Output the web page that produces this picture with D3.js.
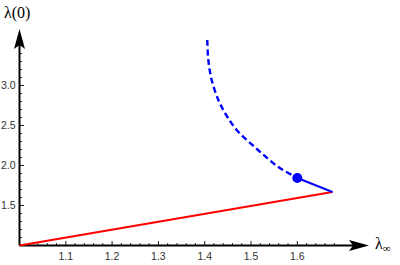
<!DOCTYPE html>
<html>
<head>
<meta charset="utf-8">
<script src="https://cdn.jsdelivr.net/npm/d3@7"></script>
<style>
  body { margin: 0; background: #fff; }
  .tick-label { font-family: "Liberation Sans", Arial, sans-serif; font-size: 10.5px; fill: #333; }
  .axis-label { font-family: "Liberation Serif", "Times New Roman", serif; fill: #000; }
</style>
</head>
<body>
<div id="chart"></div>
<script>
// values
const xMajorTicks = [1.1, 1.2, 1.3, 1.4, 1.5, 1.6];
const yMajorTicks = [1.5, 2.0, 2.5, 3.0];

const redX = [1.0, 1.676];
const redY = [1.0, 1.669];

const dashedX = [1.4056, 1.4078, 1.4151, 1.4294, 1.4402, 1.4503, 1.4691, 1.5151, 1.5583, 1.600];
const dashedY = [3.569, 3.319, 3.069, 2.819, 2.694, 2.594, 2.444, 2.194, 1.985, 1.844];

const solidX = [1.600, 1.676];
const solidY = [1.844, 1.669];

const dotX = [1.600];
const dotY = [1.844];

const width = 400, height = 265;
const origin = {x: 19.5, y: 245.5};

const svg = d3.select('#chart').append('svg')
  .attr('width', width)
  .attr('height', height);

const x = d3.scaleLinear().domain([1, 1.7]).range([origin.x, origin.x + 0.7 * 463]);
const y = d3.scaleLinear().domain([1, 3.6]).range([origin.y, origin.y - 2.6 * 80]);

// minor ticks
const xMinor = d3.range(1.02, 1.69, 0.02).filter(v => !xMajorTicks.some(m => Math.abs(m - v) < 1e-6));
const yMinor = d3.range(1.1, 3.55, 0.1).filter(v => !yMajorTicks.some(m => Math.abs(m - v) < 1e-6));

const axes = svg.append('g').attr('class', 'axes');

axes.selectAll('.xminor').data(xMinor).enter().append('line')
  .attr('x1', d => x(d)).attr('x2', d => x(d))
  .attr('y1', origin.y).attr('y2', origin.y - 2.5)
  .attr('stroke', '#000').attr('stroke-width', 0.8);
axes.selectAll('.xmajor').data(xMajorTicks).enter().append('line')
  .attr('x1', d => x(d)).attr('x2', d => x(d))
  .attr('y1', origin.y).attr('y2', origin.y - 4.5)
  .attr('stroke', '#000').attr('stroke-width', 0.9);
axes.selectAll('.yminor').data(yMinor).enter().append('line')
  .attr('x1', origin.x).attr('x2', origin.x + 2.5)
  .attr('y1', d => y(d)).attr('y2', d => y(d))
  .attr('stroke', '#000').attr('stroke-width', 0.8);
axes.selectAll('.ymajor').data(yMajorTicks).enter().append('line')
  .attr('x1', origin.x).attr('x2', origin.x + 4.5)
  .attr('y1', d => y(d)).attr('y2', d => y(d))
  .attr('stroke', '#000').attr('stroke-width', 0.9);

axes.selectAll('.xlab').data(xMajorTicks).enter().append('text')
  .attr('class', 'tick-label')
  .attr('x', d => x(d)).attr('y', 260)
  .attr('text-anchor', 'middle')
  .text(d => d.toFixed(1));
axes.selectAll('.ylab').data(yMajorTicks).enter().append('text')
  .attr('class', 'tick-label')
  .attr('x', 15.5).attr('y', d => y(d) + 3.8)
  .attr('text-anchor', 'end')
  .text(d => d.toFixed(1));

// axis lines with arrowheads
const xTip = 369, yTip = 29;
axes.append('line')
  .attr('x1', origin.x).attr('x2', xTip - 8)
  .attr('y1', origin.y).attr('y2', origin.y)
  .attr('stroke', '#000').attr('stroke-width', 2);
axes.append('line')
  .attr('x1', origin.x).attr('x2', origin.x)
  .attr('y1', origin.y).attr('y2', yTip + 8)
  .attr('stroke', '#000').attr('stroke-width', 2);

axes.append('path')
  .attr('d', `M${xTip},${origin.y} L${xTip - 20},${origin.y - 5.5} L${xTip - 16},${origin.y} L${xTip - 20},${origin.y + 5.5} Z`)
  .attr('fill', '#000');
axes.append('path')
  .attr('d', `M${origin.x},${yTip} L${origin.x - 5.5},${yTip + 20} L${origin.x},${yTip + 16} L${origin.x + 5.5},${yTip + 20} Z`)
  .attr('fill', '#000');

// axis labels
const ylab = svg.append('text').attr('class', 'axis-label')
  .attr('x', 4).attr('y', 18).attr('font-size', 16);
ylab.text('λ(0)');

const xlab = svg.append('text').attr('class', 'axis-label')
  .attr('x', 375).attr('y', 249).attr('font-size', 16);
xlab.append('tspan').text('λ');
xlab.append('tspan').attr('font-size', 11).attr('dy', 3).text('∞');

// curves
const toPts = (xs, ys) => xs.map((v, i) => [v, ys[i]]);
const line = d3.line()
  .x(d => x(d[0]))
  .y(d => y(d[1]));

svg.append('path')
  .attr('d', line(toPts(redX, redY)))
  .attr('fill', 'none').attr('stroke', '#ff0000').attr('stroke-width', 2);

svg.append('path')
  .attr('d', line.curve(d3.curveCatmullRom)(toPts(dashedX, dashedY)))
  .attr('fill', 'none').attr('stroke', '#0000ff').attr('stroke-width', 2.4)
  .attr('stroke-dasharray', '6,3.5');

svg.append('path')
  .attr('d', d3.line().x(d => x(d[0])).y(d => y(d[1]))(toPts(solidX, solidY)))
  .attr('fill', 'none').attr('stroke', '#0000ff').attr('stroke-width', 2);

svg.selectAll('.dot').data(toPts(dotX, dotY)).enter().append('circle')
  .attr('cx', d => x(d[0])).attr('cy', d => y(d[1]))
  .attr('r', 5).attr('fill', '#0000ff');
</script>
</body>
</html>
